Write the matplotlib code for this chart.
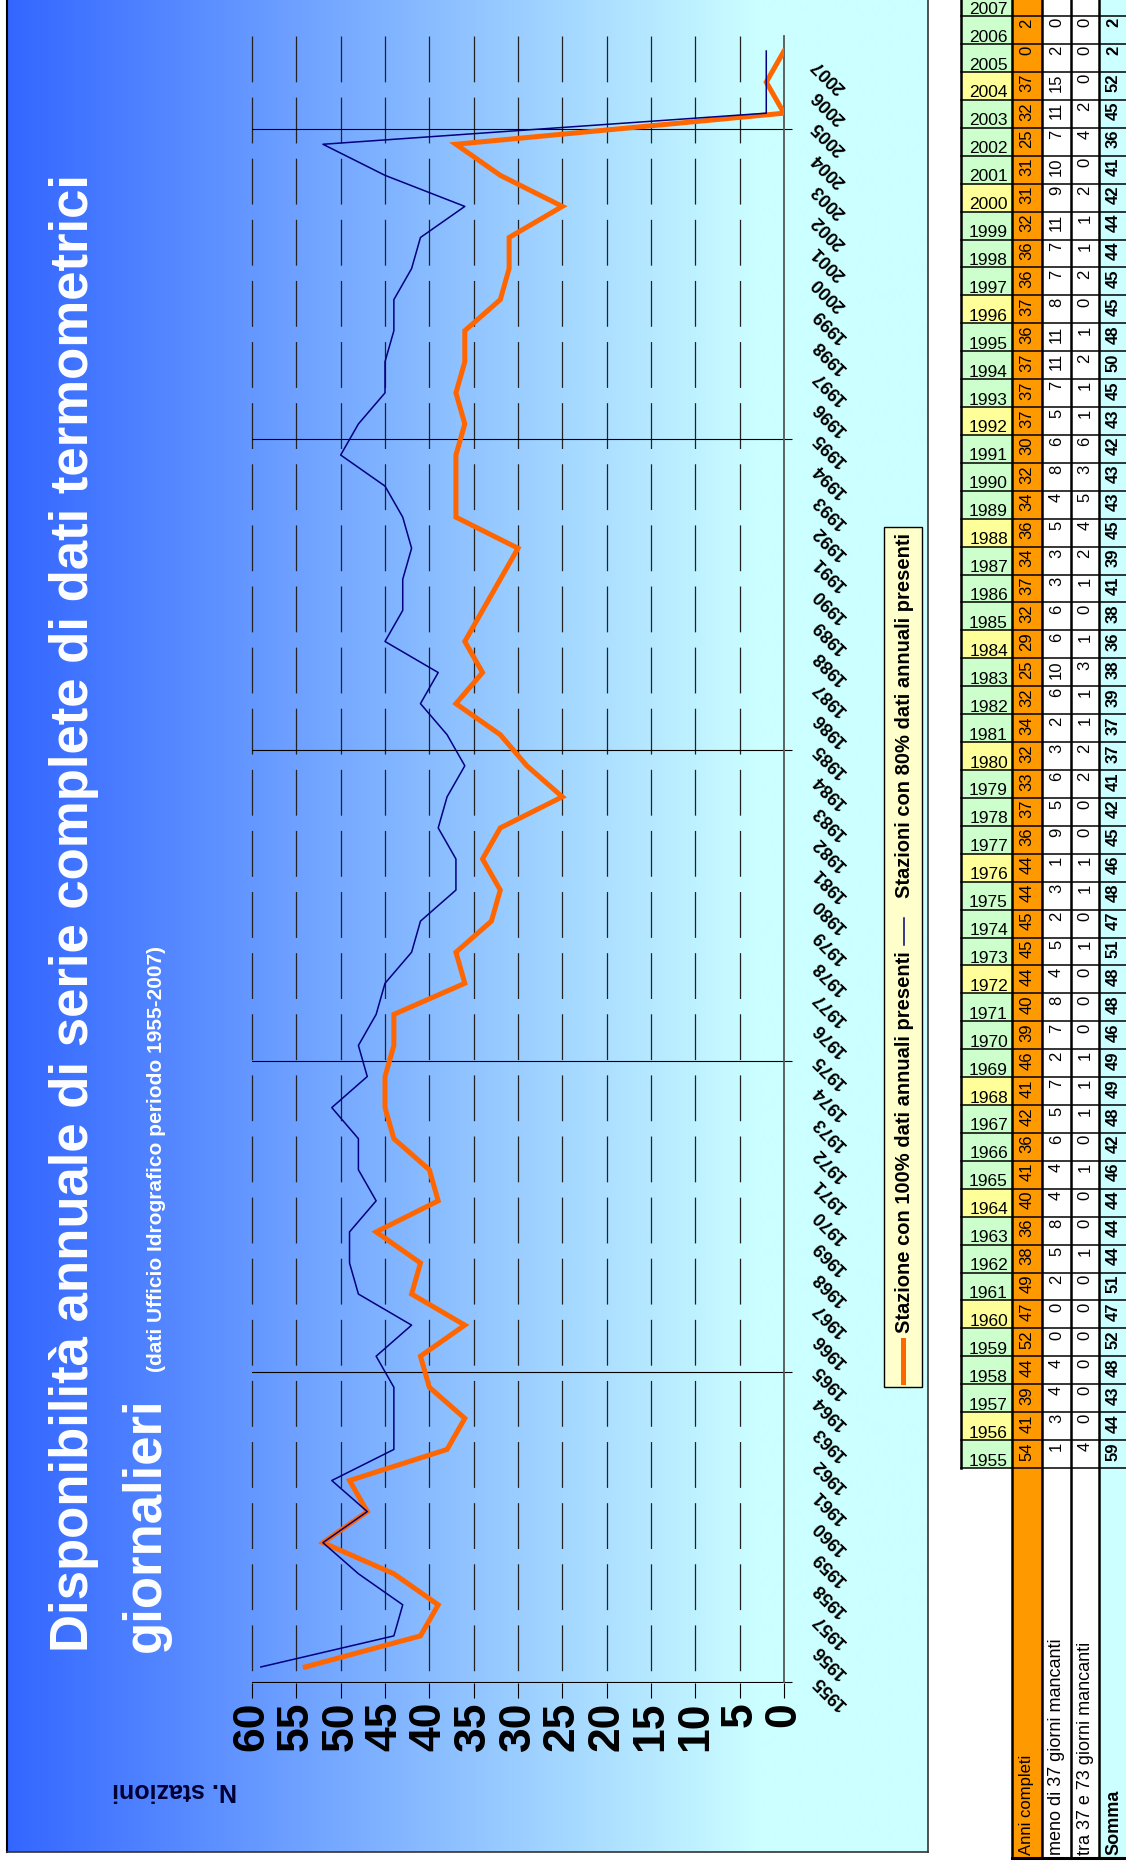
import numpy as np
import matplotlib
matplotlib.use("Agg")
import matplotlib.pyplot as plt
from matplotlib import font_manager
from matplotlib.patches import Rectangle
from matplotlib.transforms import blended_transform_factory, ScaledTranslation

plt.rcParams["font.family"] = ["Liberation Sans", "DejaVu Sans"]
plt.rcParams["lines.scale_dashes"] = False

W, H, DPI = 1126, 1869, 100

# dati Ufficio Idrografico 1955-2007
anni = list(range(1955, 2008))
completi = [54, 41, 39, 44, 52, 47, 49, 38, 36, 40, 41, 36, 42, 41, 46, 39, 40, 44, 45, 45,
            44, 44, 36, 37, 33, 32, 34, 32, 25, 29, 32, 37, 34, 36, 34, 32, 30, 37, 37, 37,
            36, 37, 36, 36, 32, 31, 31, 25, 32, 37, 0, 2, 0]
meno37 = [1, 3, 4, 4, 0, 0, 2, 5, 8, 4, 4, 6, 5, 7, 2, 7, 8, 4, 5, 2,
          3, 1, 9, 5, 6, 3, 2, 6, 10, 6, 6, 3, 3, 5, 4, 8, 6, 5, 7, 11,
          11, 8, 7, 7, 11, 9, 10, 7, 11, 15, 2, 0, 2]
tra37_73 = [4, 0, 0, 0, 0, 0, 0, 1, 0, 0, 1, 0, 1, 1, 1, 0, 0, 0, 1, 0,
            1, 1, 0, 0, 2, 2, 1, 1, 3, 1, 0, 1, 2, 4, 5, 3, 6, 1, 1, 2,
            1, 0, 2, 1, 1, 2, 0, 4, 2, 0, 0, 0, 0]
somma = [59, 44, 43, 48, 52, 47, 51, 44, 44, 44, 46, 42, 48, 49, 49, 46, 48, 48, 51, 47,
         48, 46, 45, 42, 41, 37, 37, 39, 38, 36, 38, 41, 39, 45, 43, 43, 42, 43, 45, 50,
         48, 45, 45, 44, 44, 42, 41, 36, 45, 52, 2, 2, 2]
valori_asse = list(range(0, 61, 5))
righe_tabella = ["Anni completi", "meno di 37 giorni mancanti",
                 "tra 37 e 73 giorni mancanti", "Somma"]


def has_font(name):
    try:
        font_manager.findfont(name, fallback_to_default=False)
        return True
    except ValueError:
        return False


NARROW = "Liberation Sans Narrow" if has_font("Liberation Sans Narrow") else "Liberation Sans"
NUM_SIZE = 15 if NARROW != "Liberation Sans" else 12


def frac(x0, y0, x1, y1):
    return [x0 / W, 1 - y1 / H, (x1 - x0) / W, (y1 - y0) / H]


fig = plt.figure(figsize=(W / DPI, H / DPI), dpi=DPI)
fig.patch.set_facecolor("white")

# sfondo in pixel
bg = fig.add_axes([0, 0, 1, 1])
t = np.clip((np.arange(7, 929) - 7) / 753.0, 0, 1)
c0 = np.array([0x33, 0x66, 0xff]) / 255
c1 = np.array([0xcc, 0xff, 0xff]) / 255
grad = c0 + t[:, None] * (c1 - c0)
bg.imshow(grad[None, :, :], extent=(7, 928, 1852, 0), aspect="auto",
          interpolation="bilinear", zorder=0)
bg.plot([7, 7], [0, 1852], color="black", lw=1.5)
bg.plot([928, 928], [0, 1852], color="#333333", lw=1.2)
bg.plot([7, 928], [1852, 1852], color="#333333", lw=1.2)
bg.set_xlim(0, W)
bg.set_ylim(H, 0)
bg.axis("off")

# titolo
bg.text(88, 1652, "Disponibilità annuale di serie complete di dati termometrici",
        rotation=90, rotation_mode="anchor", ha="left", va="baseline",
        fontsize=38, fontweight="bold", color="white")
bg.text(160, 1652, "giornalieri", rotation=90, rotation_mode="anchor", ha="left",
        va="baseline", fontsize=38, fontweight="bold", color="white")
bg.text(162, 1372, "(dati Ufficio Idrografico periodo 1955-2007)", rotation=90,
        rotation_mode="anchor", ha="left", va="baseline", fontsize=15,
        fontweight="bold", color="white")
bg.text(175, 1790, "N. stazioni", rotation=180, ha="center", va="center",
        fontsize=18, fontweight="bold", color="#000033")

# grafico
ax = fig.add_axes(frac(252, 35.5, 784, 1682.5))
ax.patch.set_alpha(0)
y = np.arange(len(anni))
ax.set_xlim(60, 0)
ax.set_ylim(-0.5, len(anni) - 0.5)

for v in valori_asse[1:]:
    ax.plot([v, v], [len(anni) - 0.5, -0.5], color="#222222", lw=0.9,
            dashes=(33, 11), clip_on=False, zorder=1)

ax.plot(completi, y, color="#ff6600", lw=3.6, zorder=3, solid_joinstyle="miter")
ax.plot(somma, y, color="#000080", lw=1.1, zorder=4)

ax.set_xticks(valori_asse, labels=[str(v) for v in valori_asse], rotation=90,
              fontsize=32, fontweight="bold")
ax.tick_params(axis="x", direction="out", length=11, width=0.8, color="black", pad=3)
ax.set_yticks(np.arange(-0.5, len(anni), 10))
ax.yaxis.set_ticks_position("right")
ax.tick_params(axis="y", direction="out", length=6, width=0.8, color="black",
               labelright=False, labelleft=False)
ax.grid(axis="y", color="black", lw=0.8)
for s in ["top", "left", "bottom"]:
    ax.spines[s].set_visible(False)
ax.spines["right"].set_color("#555555")
ax.spines["right"].set_linewidth(1.3)

trans = blended_transform_factory(ax.transAxes, ax.transData) + \
    ScaledTranslation(25 / DPI, -5 / DPI, fig.dpi_scale_trans)
for i, yr in enumerate(anni):
    ax.text(1.0, i, str(yr), transform=trans, rotation=135, ha="left", va="top",
            fontsize=13, fontweight="bold", clip_on=False)

# legenda
bg.add_patch(Rectangle((884, 527), 38, 860, fc="#ffffcc", ec="black", lw=1, zorder=2))
bg.plot([903, 903], [1340, 1382], color="#ff6600", lw=3.6, zorder=3)
bg.text(904, 1333, "Stazione con 100% dati annuali presenti", rotation=90,
        ha="center", va="bottom", fontsize=14.5, fontweight="bold", zorder=3)
bg.plot([904, 904], [918, 945], color="#000080", lw=1.1, zorder=3)
bg.text(904, 898, "Stazioni con 80% dati annuali presenti", rotation=90,
        ha="center", va="bottom", fontsize=14.5, fontweight="bold", zorder=3)

# tabella
cols = [961, 1012, 1042, 1071, 1099, 1128]
row_h = 27.92
y_base = 1468
serie = [completi, meno37, tra37_73, somma]
fondi = ["#ff9900", "white", "white", "#ccffff"]
for i, yr in enumerate(anni):
    y1 = y_base - i * row_h
    y0 = y1 - row_h
    fill_anno = "#ffff99" if yr % 4 == 0 else "#ccffcc"
    bg.add_patch(Rectangle((cols[0], y0), cols[1] - cols[0], row_h, fc=fill_anno, ec="none"))
    for c in range(4):
        bg.add_patch(Rectangle((cols[c + 1], y0), cols[c + 2] - cols[c + 1], row_h,
                               fc=fondi[c], ec="none"))
    bg.text(1008, y1 - 2.5, str(yr), ha="right", va="baseline", fontsize=12.5)
    if y0 < 0:
        # riga tagliata dal bordo superiore: i valori restano fuori
        continue
    for c in range(4):
        bg.text((cols[c + 1] + cols[c + 2]) / 2, y0 + 2, str(serie[c][i]), rotation=90,
                ha="center", va="top", fontsize=NUM_SIZE, family=NARROW,
                fontweight="bold" if c == 3 else "normal")

for c in range(4):
    bg.add_patch(Rectangle((cols[c + 1], y_base), cols[c + 2] - cols[c + 1], 1858 - y_base,
                           fc=fondi[c], ec="none"))
    bg.text((cols[c + 1] + cols[c + 2]) / 2, 1855, righe_tabella[c], rotation=90,
            ha="center", va="bottom", fontsize=12 if c == 0 else 13,
            fontweight="bold" if c == 3 else "normal")

for k in range(len(anni) + 1):
    yy = y_base - k * row_h
    bg.plot([cols[0], cols[-1]], [yy, yy], color="black", lw=1.1)
bg.plot([cols[0], cols[0]], [-20, y_base], color="black", lw=1.8)
for xx in cols[1:5]:
    bg.plot([xx, xx], [-20, 1858], color="black", lw=1.8)
bg.plot([cols[1], cols[-1]], [1858, 1858], color="black", lw=2.2)

fig.savefig("out.png", dpi=DPI)
